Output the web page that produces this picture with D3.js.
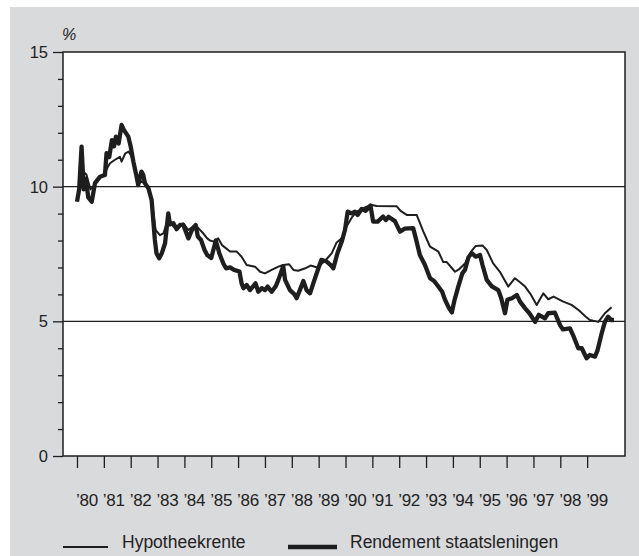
<!DOCTYPE html>
<html lang="nl">
<head>
<meta charset="UTF-8">
<title>Hypotheekrente en rendement staatsleningen</title>
<script src="https://d3js.org/d3.v7.min.js"></script>
<style>
  body { margin: 0; background: #fff; }
  text { font-family: "Liberation Sans", Arial, sans-serif; fill: #222; }
</style>
</head>
<body>
<div id="chart"></div>
<script>
// year ticks and labels
const years = d3.range(1980, 2000);
const yearLabels = years.map(y => "\u2019" + String(y).slice(2));
const yTicks = [0, 5, 10, 15];

// Hypotheekrente (thin line): time in decimal years, value in %
const hypoT = [1980.00, 1980.08, 1980.23, 1980.35, 1980.50, 1980.60, 1980.72, 1980.86, 1981.04, 1981.15,
  1981.23, 1981.40, 1981.60, 1981.66, 1981.80, 1981.92, 1982.00, 1982.10, 1982.22, 1982.30,
  1982.40, 1982.53, 1982.66, 1982.78, 1982.86, 1982.93, 1983.09, 1983.22, 1983.34, 1983.50,
  1983.60, 1983.75, 1983.96, 1984.15, 1984.40, 1984.70, 1984.85, 1984.95, 1985.10, 1985.26,
  1985.40, 1985.70, 1985.95, 1986.13, 1986.32, 1986.63, 1986.82, 1987.00, 1987.25, 1987.50,
  1987.68, 1987.90, 1988.06, 1988.24, 1988.50, 1988.70, 1988.95, 1989.24, 1989.49, 1989.67,
  1989.86, 1990.04, 1990.23, 1990.42, 1990.60, 1990.79, 1990.98, 1991.16, 1991.91, 1992.05,
  1992.28, 1992.65, 1992.90, 1993.15, 1993.46, 1993.64, 1993.77, 1994.08, 1994.25, 1994.45,
  1994.70, 1994.85, 1995.10, 1995.26, 1995.50, 1995.75, 1996.06, 1996.31, 1996.50, 1996.69,
  1996.90, 1997.12, 1997.37, 1997.55, 1997.75, 1998.11, 1998.42, 1998.70, 1998.95, 1999.10,
  1999.42, 1999.66, 1999.91];
const hypoV = [9.50, 10.00, 10.56, 10.45, 9.90, 10.00, 10.20, 10.37, 10.50, 10.74,
  10.87, 10.99, 11.11, 10.93, 11.24, 11.30, 11.18, 10.93, 10.37, 10.10,
  10.20, 10.10, 9.94, 9.50, 8.90, 8.39, 8.20, 8.27, 8.64, 8.70,
  8.50, 8.50, 8.64, 8.39, 8.58, 8.27, 8.08, 8.00, 7.96, 8.08,
  7.83, 7.59, 7.59, 7.40, 7.09, 7.03, 6.84, 6.78, 6.91, 7.03,
  7.09, 7.12, 6.91, 6.88, 6.97, 7.07, 7.00, 7.25, 7.53, 7.93,
  8.08, 8.52, 8.85, 9.07, 9.17, 9.26, 9.32, 9.28, 9.27, 9.10,
  8.95, 8.95, 8.33, 7.77, 7.59, 7.20, 7.20, 6.84, 6.95, 7.15,
  7.62, 7.80, 7.82, 7.65, 7.15, 6.84, 6.29, 6.60, 6.45, 6.29,
  6.00, 5.61, 6.04, 5.82, 5.92, 5.73, 5.61, 5.40, 5.17, 5.05,
  4.98, 5.30, 5.52];

// Rendement staatsleningen (thick line)
const staatT = [1980.00, 1980.08, 1980.17, 1980.25, 1980.33, 1980.42, 1980.55, 1980.67, 1980.86, 1981.04,
  1981.10, 1981.20, 1981.30, 1981.38, 1981.45, 1981.55, 1981.66, 1981.75, 1981.91, 1982.00,
  1982.10, 1982.22, 1982.28, 1982.34, 1982.40, 1982.47, 1982.53, 1982.66, 1982.78, 1982.84,
  1982.90, 1982.96, 1983.06, 1983.16, 1983.28, 1983.40, 1983.46, 1983.59, 1983.71, 1983.84,
  1983.96, 1984.15, 1984.28, 1984.42, 1984.50, 1984.62, 1984.75, 1984.85, 1985.00, 1985.17,
  1985.30, 1985.45, 1985.55, 1985.70, 1985.85, 1986.05, 1986.13, 1986.20, 1986.32, 1986.44,
  1986.55, 1986.65, 1986.75, 1986.88, 1987.00, 1987.10, 1987.25, 1987.40, 1987.50, 1987.68,
  1987.75, 1987.93, 1988.10, 1988.18, 1988.30, 1988.43, 1988.55, 1988.68, 1988.80, 1988.99,
  1989.10, 1989.30, 1989.45, 1989.55, 1989.70, 1989.86, 1989.98, 1990.08, 1990.22, 1990.35,
  1990.45, 1990.60, 1990.75, 1990.93, 1991.03, 1991.20, 1991.40, 1991.50, 1991.60, 1991.84,
  1992.03, 1992.20, 1992.52, 1992.62, 1992.77, 1992.96, 1993.15, 1993.30, 1993.45, 1993.60,
  1993.71, 1993.85, 1993.96, 1994.06, 1994.20, 1994.35, 1994.45, 1994.58, 1994.70, 1994.85,
  1995.01, 1995.10, 1995.26, 1995.45, 1995.69, 1995.80, 1995.94, 1996.03, 1996.20, 1996.38,
  1996.50, 1996.69, 1996.85, 1997.06, 1997.20, 1997.43, 1997.55, 1997.80, 1997.99, 1998.10,
  1998.36, 1998.50, 1998.67, 1998.80, 1998.98, 1999.10, 1999.29, 1999.38, 1999.54, 1999.66,
  1999.78, 1999.90, 2000.00];
const staatV = [9.44, 9.90, 11.49, 9.90, 10.30, 9.60, 9.44, 10.13, 10.37, 10.43,
  11.24, 11.10, 11.73, 11.50, 11.86, 11.60, 12.29, 12.10, 11.86, 11.49,
  10.93, 10.37, 10.06, 10.31, 10.56, 10.43, 10.13, 9.94, 9.50, 8.76,
  8.02, 7.53, 7.34, 7.53, 7.90, 9.01, 8.60, 8.64, 8.42, 8.58,
  8.58, 8.08, 8.39, 8.58, 8.15, 8.02, 7.65, 7.46, 7.35, 8.00,
  7.53, 7.15, 6.97, 7.00, 6.91, 6.85, 6.41, 6.23, 6.35, 6.16,
  6.29, 6.41, 6.10, 6.23, 6.16, 6.29, 6.10, 6.30, 6.54, 7.05,
  6.54, 6.16, 6.00, 5.86, 6.16, 6.50, 6.16, 6.04, 6.41, 6.97,
  7.28, 7.22, 7.09, 6.97, 7.53, 7.96, 8.39, 9.07, 9.01, 9.07,
  8.95, 9.17, 9.10, 9.30, 8.70, 8.70, 8.89, 8.76, 8.88, 8.72,
  8.33, 8.44, 8.46, 8.08, 7.46, 7.09, 6.60, 6.50, 6.30, 6.10,
  5.79, 5.50, 5.33, 5.79, 6.29, 6.78, 6.91, 7.38, 7.53, 7.40,
  7.46, 7.10, 6.54, 6.30, 6.16, 5.86, 5.30, 5.80, 5.86, 5.98,
  5.73, 5.48, 5.30, 4.98, 5.24, 5.11, 5.30, 5.32, 4.86, 4.70,
  4.74, 4.43, 4.00, 4.00, 3.63, 3.75, 3.69, 3.90, 4.55, 4.98,
  5.17, 5.05, 5.05];

const width = 639, height = 556;
const ink = "#1e1e1e";

const svg = d3.select("#chart").append("svg")
  .attr("width", width)
  .attr("height", height);

// grey panel
svg.append("rect")
  .attr("x", 10).attr("y", 7)
  .attr("width", width - 10).attr("height", height - 7)
  .attr("fill", "#d9dadc");

const plotL = 63, plotR = 625, plotT = 52, plotB = 456;

svg.append("rect")
  .attr("x", plotL).attr("y", plotT)
  .attr("width", plotR - plotL).attr("height", plotB - plotT)
  .attr("fill", "#fff");

const x = d3.scaleLinear().domain([1980, 2000]).range([77, 614]);
const y = d3.scaleLinear().domain([0, 15]).range([plotB, plotT]);

// gridlines at 5 and 10
svg.append("g").selectAll("line")
  .data([5, 10])
  .join("line")
  .attr("x1", plotL).attr("x2", plotR)
  .attr("y1", d => y(d)).attr("y2", d => y(d))
  .attr("stroke", ink).attr("stroke-width", 1.2);

// lines
const line = (T, V) => d3.line()
  .x((d, i) => x(T[i]))
  .y(d => y(d))(V);

svg.append("path")
  .attr("d", line(hypoT, hypoV))
  .attr("fill", "none").attr("stroke", ink)
  .attr("stroke-width", 2).attr("stroke-linejoin", "round");

svg.append("path")
  .attr("d", line(staatT, staatV))
  .attr("fill", "none").attr("stroke", ink)
  .attr("stroke-width", 4.3).attr("stroke-linejoin", "round");

// frame
svg.append("rect")
  .attr("x", plotL).attr("y", plotT)
  .attr("width", plotR - plotL).attr("height", plotB - plotT)
  .attr("fill", "none").attr("stroke", ink).attr("stroke-width", 1.5);

// y axis: minor ticks every unit, major ticks longer
const yAxis = d3.axisLeft(y)
  .tickValues(d3.range(0, 16))
  .tickSize(5)
  .tickFormat("");
const gy = svg.append("g")
  .attr("transform", `translate(${plotL},0)`)
  .call(yAxis);
gy.select(".domain").remove();
gy.selectAll(".tick line")
  .attr("stroke", ink).attr("stroke-width", 1.3)
  .attr("x2", d => yTicks.includes(d) ? -10 : -5);

svg.append("g").selectAll("text")
  .data(yTicks)
  .join("text")
  .attr("x", 48)
  .attr("y", d => y(d))
  .attr("dy", "0.36em")
  .attr("text-anchor", "end")
  .style("font-size", "16.5px")
  .text(d => d);

svg.append("text")
  .attr("x", 62).attr("y", 40)
  .style("font-size", "16px")
  .style("font-style", "italic")
  .text("%");

// x axis ticks at the start of each year
const xAxis = d3.axisBottom(x)
  .tickValues(years)
  .tickSize(12)
  .tickFormat("");
const gx = svg.append("g")
  .attr("transform", `translate(0,${plotB})`)
  .call(xAxis);
gx.select(".domain").remove();
gx.selectAll(".tick line").attr("stroke", ink).attr("stroke-width", 1.3);

svg.append("g").selectAll("text")
  .data(years)
  .join("text")
  .attr("x", d => x(d) - 1)
  .attr("y", 506)
  .style("font-size", "17px")
  .style("letter-spacing", "-0.3px")
  .text((d, i) => yearLabels[i]);

// legend
const legend = [
  { name: "Hypotheekrente", w: 2, x1: 63, x2: 108, tx: 122 },
  { name: "Rendement staatsleningen", w: 4.3, x1: 288, x2: 337, tx: 350 }
];
const lg = svg.append("g");
lg.selectAll("line")
  .data(legend)
  .join("line")
  .attr("x1", d => d.x1).attr("x2", d => d.x2)
  .attr("y1", 547).attr("y2", 547)
  .attr("stroke", ink)
  .attr("stroke-width", d => d.w);
lg.selectAll("text")
  .data(legend)
  .join("text")
  .attr("x", d => d.tx)
  .attr("y", 548)
  .style("font-size", "17.5px")
  .text(d => d.name);
</script>
</body>
</html>
